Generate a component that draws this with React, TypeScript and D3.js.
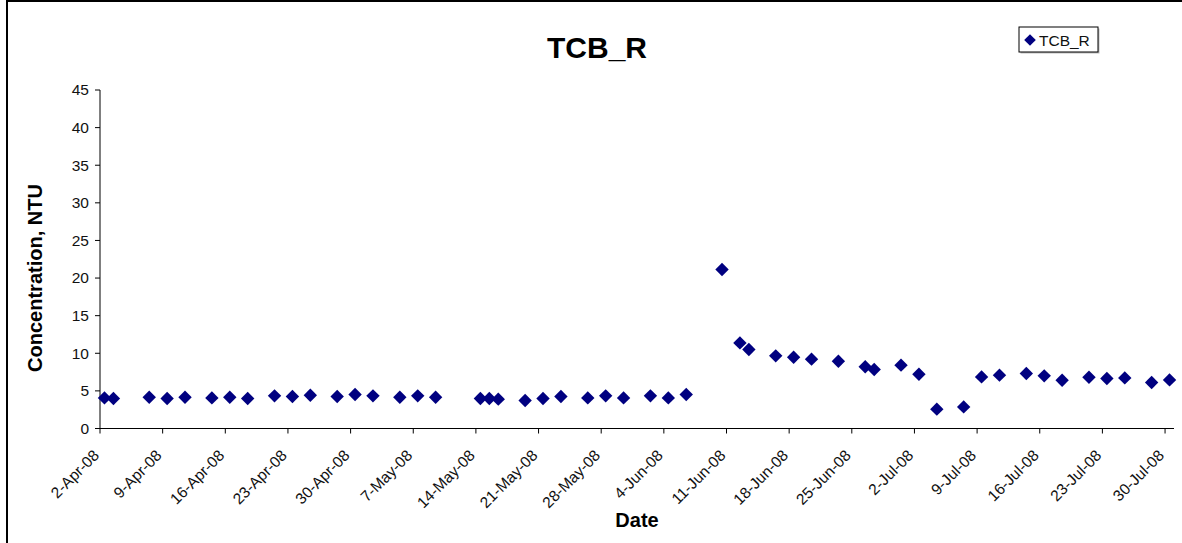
import React, { useRef, useEffect } from 'react';
import * as d3 from 'd3';

// sample dates (one reading per day) and turbidity values, NTU
const sampleDates = [
  '2008-04-02', '2008-04-03', '2008-04-07', '2008-04-09', '2008-04-11', '2008-04-14', '2008-04-16',
  '2008-04-18', '2008-04-21', '2008-04-23', '2008-04-25', '2008-04-28', '2008-04-30',
  '2008-05-02', '2008-05-05', '2008-05-07', '2008-05-09', '2008-05-14', '2008-05-15', '2008-05-16',
  '2008-05-19', '2008-05-21', '2008-05-23', '2008-05-26', '2008-05-28', '2008-05-30',
  '2008-06-02', '2008-06-04', '2008-06-06', '2008-06-10', '2008-06-12', '2008-06-13', '2008-06-16',
  '2008-06-18', '2008-06-20', '2008-06-23', '2008-06-26', '2008-06-27', '2008-06-30',
  '2008-07-02', '2008-07-04', '2008-07-07', '2008-07-09', '2008-07-11', '2008-07-14', '2008-07-16',
  '2008-07-18', '2008-07-21', '2008-07-23', '2008-07-25', '2008-07-28', '2008-07-30',
];

const tcbValues = [
  4.07, 3.99, 4.16, 3.99, 4.16, 4.07, 4.16, 3.99, 4.34, 4.25, 4.43, 4.25, 4.52,
  4.34, 4.16, 4.34, 4.16, 3.99, 3.99, 3.9, 3.72, 3.99, 4.25, 4.07, 4.34, 4.07,
  4.34, 4.07, 4.52, 21.14, 11.38, 10.5, 9.66, 9.48, 9.22, 8.95, 8.2, 7.84, 8.42,
  7.22, 2.57, 2.87, 6.86, 7.09, 7.31, 7.0, 6.42, 6.82, 6.65, 6.73, 6.12, 6.46,
];

const xTickLabels = [
  '2-Apr-08', '9-Apr-08', '16-Apr-08', '23-Apr-08', '30-Apr-08', '7-May-08', '14-May-08',
  '21-May-08', '28-May-08', '4-Jun-08', '11-Jun-08', '18-Jun-08', '25-Jun-08', '2-Jul-08',
  '9-Jul-08', '16-Jul-08', '23-Jul-08', '30-Jul-08',
];

const yTicks = [0, 5, 10, 15, 20, 25, 30, 35, 40, 45];

const W = 1182;
const H = 543;
const plot = { left: 100, right: 1174, top: 90, bottom: 428.5 };
const NAVY = '#000080';
const FONT = 'Arial, "Liberation Sans", sans-serif';

const diamond = (r: number) => `M0,${-r}L${r},0L0,${r}L${-r},0Z`;

const App: React.FC = () => {
  const svgRef = useRef<SVGSVGElement>(null);

  useEffect(() => {
    if (!svgRef.current) return;
    const svg = d3.select(svgRef.current);
    svg.selectAll('*').remove();

    const parseIso = d3.timeParse('%Y-%m-%d');
    const parseTick = d3.timeParse('%d-%b-%y');
    const points = sampleDates.map((d, i) => ({ date: parseIso(d) as Date, value: tcbValues[i] }));
    const tickDates = xTickLabels.map((t) => parseTick(t) as Date);

    // date axis runs from the first category to the day after the last one
    const x = d3
      .scaleTime()
      .domain([tickDates[0], d3.timeDay.offset(points[points.length - 1].date, 1)])
      .range([plot.left, plot.right]);
    const y = d3.scaleLinear().domain([0, 45]).range([plot.bottom, plot.top]);

    // outer chart border (left and top visible)
    svg
      .append('path')
      .attr('d', `M7,${H}V1H${W}`)
      .attr('fill', 'none')
      .attr('stroke', '#000')
      .attr('stroke-width', 2);

    // title
    svg
      .append('text')
      .attr('x', 597)
      .attr('y', 58)
      .attr('text-anchor', 'middle')
      .attr('font-family', FONT)
      .attr('font-weight', 'bold')
      .attr('font-size', 30)
      .text('TCB_R');

    // y axis
    const yAxis = svg.append('g');
    yAxis
      .append('line')
      .attr('x1', plot.left)
      .attr('x2', plot.left)
      .attr('y1', plot.top)
      .attr('y2', plot.bottom)
      .attr('stroke', '#000');
    yTicks.forEach((t) => {
      yAxis
        .append('line')
        .attr('x1', plot.left - 5)
        .attr('x2', plot.left)
        .attr('y1', y(t))
        .attr('y2', y(t))
        .attr('stroke', '#000');
      yAxis
        .append('text')
        .attr('x', plot.left - 11)
        .attr('y', y(t))
        .attr('dy', '0.35em')
        .attr('text-anchor', 'end')
        .attr('font-family', FONT)
        .attr('font-size', 15.5)
        .attr('fill', '#111')
        .text(t);
    });

    // x axis
    const xAxis = svg.append('g');
    xAxis
      .append('line')
      .attr('x1', plot.left)
      .attr('x2', plot.right)
      .attr('y1', plot.bottom)
      .attr('y2', plot.bottom)
      .attr('stroke', '#000');
    tickDates.forEach((d, i) => {
      const tx = x(d);
      xAxis
        .append('line')
        .attr('x1', tx)
        .attr('x2', tx)
        .attr('y1', plot.bottom)
        .attr('y2', plot.bottom + 5)
        .attr('stroke', '#000');
      xAxis
        .append('text')
        .attr('transform', `translate(${tx},${plot.bottom + 28}) rotate(-45)`)
        .attr('text-anchor', 'end')
        .attr('font-family', FONT)
        .attr('font-size', 15.5)
        .attr('fill', '#111')
        .text(xTickLabels[i]);
    });

    // axis titles
    svg
      .append('text')
      .attr('x', 637)
      .attr('y', 527)
      .attr('text-anchor', 'middle')
      .attr('font-family', FONT)
      .attr('font-weight', 'bold')
      .attr('font-size', 20)
      .text('Date');
    svg
      .append('text')
      .attr('transform', 'translate(42,278) rotate(-90)')
      .attr('text-anchor', 'middle')
      .attr('font-family', FONT)
      .attr('font-weight', 'bold')
      .attr('font-size', 20)
      .text('Concentration, NTU');

    // data markers, centred in each day's slot
    svg
      .append('g')
      .selectAll('path')
      .data(points)
      .join('path')
      .attr('d', diamond(6.7))
      .attr('transform', (d) => `translate(${x(d3.timeHour.offset(d.date, 12))},${y(d.value)})`)
      .attr('fill', NAVY);

    // legend
    const legend = svg.append('g').attr('transform', 'translate(1019,27)');
    legend
      .append('rect')
      .attr('x', 1.5)
      .attr('y', 1.5)
      .attr('width', 79)
      .attr('height', 25)
      .attr('fill', '#bbb');
    legend
      .append('rect')
      .attr('width', 79)
      .attr('height', 25)
      .attr('fill', '#fff')
      .attr('stroke', '#000');
    legend
      .append('path')
      .attr('d', diamond(5.8))
      .attr('transform', 'translate(11,13)')
      .attr('fill', NAVY);
    legend
      .append('text')
      .attr('x', 20)
      .attr('y', 18.5)
      .attr('font-family', FONT)
      .attr('font-size', 15.5)
      .attr('fill', '#111')
      .text('TCB_R');
  }, []);

  return (
    <svg
      ref={svgRef}
      width={W}
      height={H}
      style={{ position: 'absolute', left: 0, top: 0, background: '#fff' }}
    />
  );
};

export default App;
